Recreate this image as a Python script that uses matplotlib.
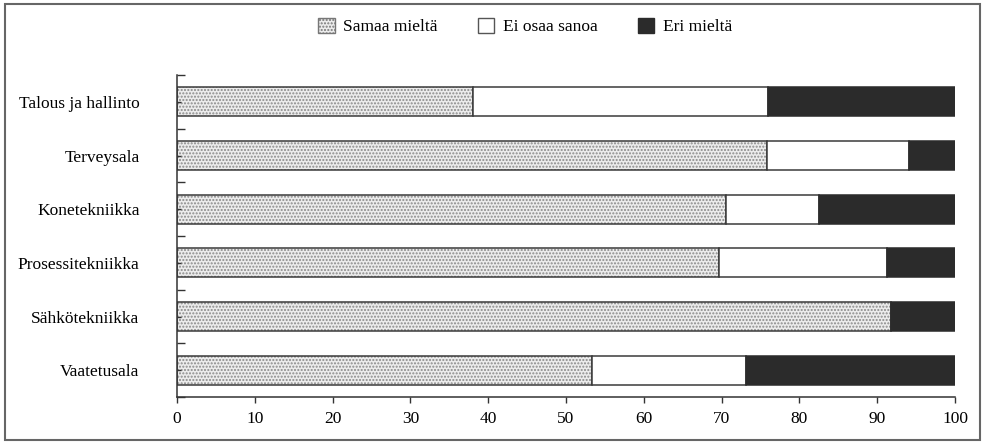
import numpy as np
import matplotlib
matplotlib.use("Agg")
import matplotlib.pyplot as plt
from matplotlib.patches import Patch, Rectangle

plt.rcParams['font.family'] = ['Liberation Serif', 'DejaVu Serif']

# data (percent), top to bottom
categories = ["Talous ja hallinto", "Terveysala", "Konetekniikka",
              "Prosessitekniikka", "Sähkötekniikka", "Vaatetusala"]
samaa = [38.1, 75.8, 70.6, 69.7, 91.8, 53.3]
ei_osaa = [37.9, 18.3, 11.9, 21.6, 0.0, 19.9]
eri = [24.0, 5.9, 17.5, 8.7, 8.2, 26.8]
series_names = ["Samaa mieltä", "Ei osaa sanoa", "Eri mieltä"]
x_ticks = [0, 10, 20, 30, 40, 50, 60, 70, 80, 90, 100]

fig = plt.figure(figsize=(9.85, 4.42), dpi=100)
ax = fig.add_axes([0.1797, 0.1018, 0.7898, 0.7285])

y = np.arange(len(categories))[::-1]
h = 0.54
edge = '#3a3a3a'

samaa = np.array(samaa)
ei_osaa = np.array(ei_osaa)
eri = np.array(eri)

# dotted fill for "Samaa mieltä"
ax.barh(y, samaa, height=h, color='#ececec', hatch='.....',
        edgecolor='#8a8a8a', linewidth=0)
ax.barh(y, samaa, height=h, fill=False, edgecolor=edge, linewidth=1.1)
ax.barh(y, ei_osaa, left=samaa, height=h, color='white',
        edgecolor=edge, linewidth=1.1)
ax.barh(y, eri, left=samaa + ei_osaa, height=h, color='#2b2b2b',
        edgecolor='#2b2b2b', linewidth=1.1)

ax.set_xlim(0, 100)
ax.set_ylim(-0.5, len(categories) - 0.5)
ax.set_xticks(x_ticks)
ax.set_xticklabels([str(v) for v in x_ticks], fontsize=12.5)
ax.set_yticks(y)
ax.set_yticklabels(categories, fontsize=12.5)
ax.set_yticks(np.arange(-0.5, len(categories), 1.0), minor=True)
ax.tick_params(axis='x', direction='out', length=4, width=1, color='#333', pad=6)
ax.tick_params(axis='y', which='major', direction='in', length=3, width=1,
               color='#333', pad=27)
ax.tick_params(axis='y', which='minor', direction='in', length=6, width=1,
               color='#333')
for s in ['top', 'right']:
    ax.spines[s].set_visible(False)
for s in ['left', 'bottom']:
    ax.spines[s].set_color('#333')
    ax.spines[s].set_linewidth(1.1)

handles = [
    Patch(facecolor='#ececec', hatch='.....', edgecolor='#777777', linewidth=1),
    Patch(facecolor='white', edgecolor='#555555', linewidth=1),
    Patch(facecolor='#2b2b2b', edgecolor='#2b2b2b', linewidth=1),
]
fig.legend(handles, series_names, loc='center', bbox_to_anchor=(0.533, 0.94),
           ncol=3, frameon=False, fontsize=12.5, handlelength=0.95,
           handleheight=1.0, handletextpad=0.5, columnspacing=2.3)

# border around the whole figure
fig.patches.append(Rectangle((0.005, 0.005), 0.99, 0.985, transform=fig.transFigure,
                             fill=False, edgecolor='#666666', linewidth=1.5))

fig.savefig("out.png", dpi=100)
